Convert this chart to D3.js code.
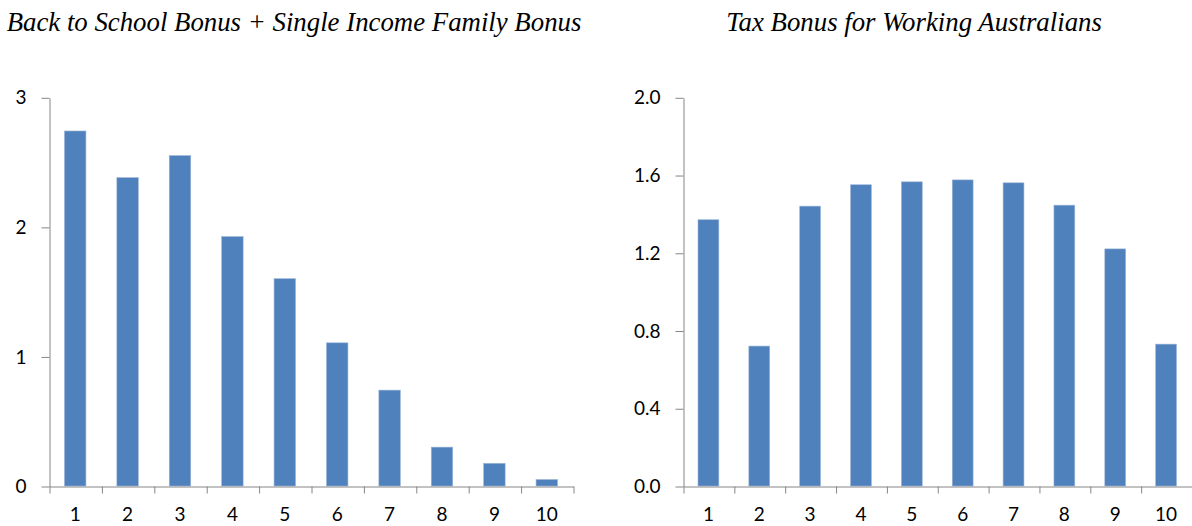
<!DOCTYPE html>
<html>
<head>
<meta charset="utf-8">
<script src="https://cdn.jsdelivr.net/npm/d3@7"></script>
<style>
  body { margin: 0; background: #fff; }
  svg { display: block; }
  .title { font-family: "Liberation Serif", "Times New Roman", serif; font-style: italic; font-size: 26.8px; fill: #000; }
  .axis text { font-family: Lato, "Open Sans", sans-serif; font-size: 19px; fill: #000; }
  .axis path, .axis line { stroke: #868686; stroke-width: 1; }
</style>
</head>
<body>
<svg id="chart" width="1192" height="526"></svg>
<script>
// deciles
var categories = ["1", "2", "3", "4", "5", "6", "7", "8", "9", "10"];

// Back to School Bonus + Single Income Family Bonus
var schoolValues = [2.74, 2.38, 2.55, 1.925, 1.60, 1.105, 0.74, 0.30, 0.175, 0.05];
var schoolTicks = [0, 1, 2, 3];

// Tax Bonus for Working Australians
var taxValues = [1.37, 0.72, 1.44, 1.55, 1.565, 1.575, 1.56, 1.445, 1.22, 0.73];
var taxTicks = [0.0, 0.4, 0.8, 1.2, 1.6, 2.0];

var barColor = "#4F81BD";

var svg = d3.select("#chart");

var drawPanel = function(opt){
	var g = svg.append("g");

	var xScale = d3.scaleBand()
					.domain(categories)
					.range([opt.left, opt.right])
					.paddingInner(0.59).paddingOuter(0.295);
	// boundaries between categories, for the tick marks
	var xEdge = d3.scaleLinear()
					.domain([0, categories.length])
					.range([opt.left, opt.right]);
	var yScale = d3.scaleLinear()
					.domain([0, opt.max])
					.range([opt.bottom, opt.top]);

	g.selectAll("rect.bar")
		.data(opt.values)
		.enter().append("rect")
		.attr("class", "bar")
		.attr("x", function(d, i){ return xScale(categories[i]); })
		.attr("y", function(d){ return yScale(d); })
		.attr("width", xScale.bandwidth())
		.attr("height", function(d){ return opt.bottom - yScale(d); })
		.attr("fill", barColor)
		.attr("stroke", "#9DB5D8")
		.attr("stroke-width", 0.6);

	// y axis
	g.append("g")
		.attr("class", "axis")
		.attr("transform", "translate(" + (opt.left + 0.5) + ",0.5)")
		.call(d3.axisLeft(yScale).tickValues(opt.ticks).tickSize(8).tickSizeOuter(0)
			.tickPadding(15).tickFormat(d3.format(opt.fmt)));

	// x axis: tick marks at category boundaries
	g.append("g")
		.attr("class", "axis")
		.attr("transform", "translate(0.5," + (opt.bottom + 0.5) + ")")
		.call(d3.axisBottom(xEdge).ticks(categories.length).tickSize(7).tickSizeOuter(0)
			.tickFormat(""));

	// x labels at category centres
	g.append("g")
		.attr("class", "axis")
		.attr("transform", "translate(0," + (opt.bottom + 0.5) + ")")
		.call(d3.axisBottom(xScale).tickSize(0).tickPadding(21))
		.call(function(a){ a.select(".domain").remove(); });

	svg.append("text")
		.attr("class", "title")
		.attr("x", opt.titleX)
		.attr("y", 31)
		.attr("text-anchor", "middle")
		.text(opt.title);
};

drawPanel({
	left: 49, right: 573, top: 97.3, bottom: 486,
	max: 3, ticks: schoolTicks, fmt: "d", values: schoolValues,
	title: "Back to School Bonus + Single Income Family Bonus", titleX: 294
});

drawPanel({
	left: 683, right: 1191.5, top: 97.3, bottom: 486,
	max: 2, ticks: taxTicks, fmt: ".1f", values: taxValues,
	title: "Tax Bonus for Working Australians", titleX: 914
});
</script>
</body>
</html>
